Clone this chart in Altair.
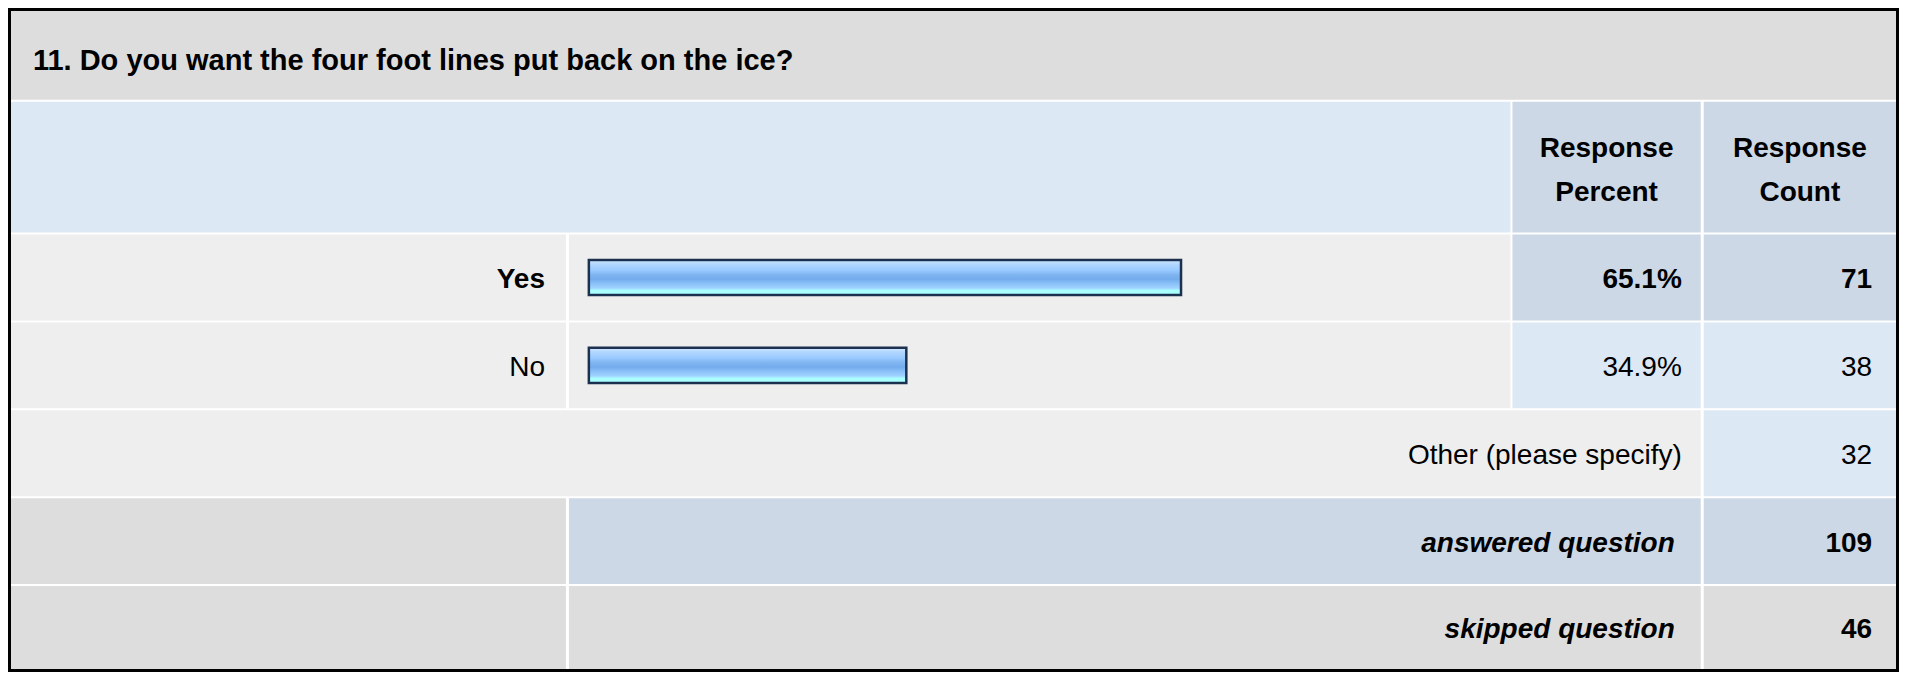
import altair as alt
import pandas as pd

# ---------------- data ----------------
question = "11. Do you want the four foot lines put back on the ice?"
header_percent = ["Response", "Percent"]
header_count = ["Response", "Count"]
answer_labels = ["Yes", "No"]
response_percent = [65.1, 34.9]
response_count = [71, 38]
other_label = "Other (please specify)"
other_count = 32
answered_label = "answered question"
answered_count = 109
skipped_label = "skipped question"
skipped_count = 46

# ---------------- layout (reference pixel grid) ----------------
W, H = 1891, 664
X0, X1 = 5, 1903
Y0, Y1 = 5, 685
COL = {"label": (8, 565), "bar": (568, 1513), "pct": (1515, 1704), "cnt": (1707, 1900)}
ROW = {"title": (8, 99), "header": (101, 235), "yes": (237, 325), "no": (327, 415),
       "other": (417, 505), "answered": (507, 595), "skipped": (597, 683)}
BAR_START, BAR_FULL, BAR_HALF = 588, 913, 18
FONT = "Liberation Sans, Arial, Helvetica, sans-serif"
FS = 28

GRAY = "#DDDDDD"
LIGHT = "#EEEEEE"
BLUE_L = "#DDE8F5"
BLUE_D = "#CCD8E6"


def px(v):
    return (v - X0) * W / (X1 - X0)


XS = alt.Scale(domain=[X0, X1], range=[0, W], zero=False, nice=False)
YS = alt.Scale(domain=[Y0, Y1], range=[0, H], zero=False, nice=False)

# ---------------- cells ----------------
cells = [
    ((8, 1900), ROW["title"], GRAY),
    ((8, 1513), ROW["header"], BLUE_L),
    (COL["pct"], ROW["header"], BLUE_D),
    (COL["cnt"], ROW["header"], BLUE_D),
    (COL["label"], ROW["yes"], LIGHT),
    (COL["bar"], ROW["yes"], LIGHT),
    (COL["pct"], ROW["yes"], BLUE_D),
    (COL["cnt"], ROW["yes"], BLUE_D),
    (COL["label"], ROW["no"], LIGHT),
    (COL["bar"], ROW["no"], LIGHT),
    (COL["pct"], ROW["no"], BLUE_L),
    (COL["cnt"], ROW["no"], BLUE_L),
    ((8, 1704), ROW["other"], LIGHT),
    (COL["cnt"], ROW["other"], BLUE_L),
    (COL["label"], ROW["answered"], GRAY),
    ((568, 1704), ROW["answered"], BLUE_D),
    (COL["cnt"], ROW["answered"], BLUE_D),
    (COL["label"], ROW["skipped"], GRAY),
    ((568, 1704), ROW["skipped"], GRAY),
    (COL["cnt"], ROW["skipped"], GRAY),
]
cells_df = pd.DataFrame([
    {"x": c[0][0], "x2": c[0][1], "y": c[1][0], "y2": c[1][1], "fill": c[2]} for c in cells
])

cell_layer = alt.Chart(cells_df).mark_rect().encode(
    x=alt.X("x:Q", scale=XS, axis=None),
    x2="x2:Q",
    y=alt.Y("y:Q", scale=YS, axis=None),
    y2="y2:Q",
    fill=alt.Fill("fill:N", scale=None),
)

border_df = pd.DataFrame([{"x": 6.5, "x2": 1901.5, "y": 6.5, "y2": 683.5}])
border_layer = alt.Chart(border_df).mark_rect(fillOpacity=0, stroke="#000000", strokeWidth=3).encode(
    x=alt.X("x:Q", scale=XS, axis=None), x2="x2:Q",
    y=alt.Y("y:Q", scale=YS, axis=None), y2="y2:Q",
)

# ---------------- bars ----------------
row_keys = ["yes", "no"]
bar_df = pd.DataFrame({
    "label": answer_labels,
    "pct": response_percent,
    "y": [(ROW[k][0] + ROW[k][1]) / 2 - BAR_HALF for k in row_keys],
    "y2": [(ROW[k][0] + ROW[k][1]) / 2 + BAR_HALF for k in row_keys],
})
PS = alt.Scale(domain=[0, 100], range=[px(BAR_START), px(BAR_START + BAR_FULL)], zero=False, nice=False)
grad = alt.Gradient(
    gradient="linear", x1=0, x2=0, y1=0, y2=1,
    stops=[
        alt.GradientStop(color="#D2E8FF", offset=0),
        alt.GradientStop(color="#B2D7FF", offset=0.12),
        alt.GradientStop(color="#98C9FF", offset=0.3),
        alt.GradientStop(color="#7FB5F1", offset=0.42),
        alt.GradientStop(color="#74ACEC", offset=0.55),
        alt.GradientStop(color="#8CC2FA", offset=0.68),
        alt.GradientStop(color="#A0D3FF", offset=0.8),
        alt.GradientStop(color="#AAFFFF", offset=0.87),
        alt.GradientStop(color="#AAFFFF", offset=1),
    ],
)
bar_layer = alt.Chart(bar_df).transform_calculate(zero="0").mark_rect(
    fill=grad, stroke="#1C3150", strokeWidth=2.5
).encode(
    x=alt.X("zero:Q", scale=PS, axis=None),
    x2="pct:Q",
    y=alt.Y("y:Q", scale=YS, axis=None),
    y2="y2:Q",
)

# ---------------- texts ----------------
def base_of(key, off=33):
    return ROW[key][1] - off


def text_layer(df, size=FS, **mark):
    return alt.Chart(df).mark_text(font=FONT, fontSize=size, color="#000000", baseline="alphabetic", **mark).encode(
        x=alt.X("x:Q", scale=XS, axis=None),
        y=alt.Y("y:Q", scale=YS, axis=None),
        text="t:N",
    )


title_df = pd.DataFrame([{"x": 30, "y": 68, "t": question}])
header_df = pd.DataFrame([
    {"x": (COL["pct"][0] + COL["pct"][1]) / 2, "y": 158, "t": header_percent[0]},
    {"x": (COL["pct"][0] + COL["pct"][1]) / 2, "y": 203, "t": header_percent[1]},
    {"x": (COL["cnt"][0] + COL["cnt"][1]) / 2, "y": 158, "t": header_count[0]},
    {"x": (COL["cnt"][0] + COL["cnt"][1]) / 2, "y": 203, "t": header_count[1]},
])
LBL_R, PCT_R, CNT_R, SUM_R = 544, 1685, 1876, 1678

bold_right_df = pd.DataFrame([
    {"x": LBL_R, "y": base_of("yes"), "t": answer_labels[0]},
    {"x": PCT_R, "y": base_of("yes"), "t": f"{response_percent[0]:.1f}%"},
    {"x": CNT_R, "y": base_of("yes"), "t": str(response_count[0])},
    {"x": CNT_R, "y": base_of("answered"), "t": str(answered_count)},
    {"x": CNT_R, "y": base_of("skipped"), "t": str(skipped_count)},
])
plain_right_df = pd.DataFrame([
    {"x": LBL_R, "y": base_of("no"), "t": answer_labels[1]},
    {"x": PCT_R, "y": base_of("no"), "t": f"{response_percent[1]:.1f}%"},
    {"x": CNT_R, "y": base_of("no"), "t": str(response_count[1])},
    {"x": PCT_R, "y": base_of("other"), "t": other_label},
    {"x": CNT_R, "y": base_of("other"), "t": str(other_count)},
])
italic_df = pd.DataFrame([
    {"x": SUM_R, "y": base_of("answered"), "t": answered_label},
    {"x": SUM_R, "y": base_of("skipped"), "t": skipped_label},
])

layers = [
    cell_layer,
    bar_layer,
    text_layer(title_df, size=29, align="left", fontWeight="bold"),
    text_layer(header_df, align="center", fontWeight="bold"),
    text_layer(bold_right_df, align="right", fontWeight="bold"),
    text_layer(plain_right_df, align="right"),
    text_layer(italic_df, align="right", fontWeight="bold", fontStyle="italic"),
    border_layer,
]

chart = alt.layer(*layers).resolve_scale(x="independent").properties(
    width=W, height=H, padding=0, autosize=alt.AutoSizeParams(type="none"),
    background="#FFFFFF",
).configure_view(strokeWidth=0)

chart.save("out.html", embed_options={"renderer": "svg", "actions": False})
